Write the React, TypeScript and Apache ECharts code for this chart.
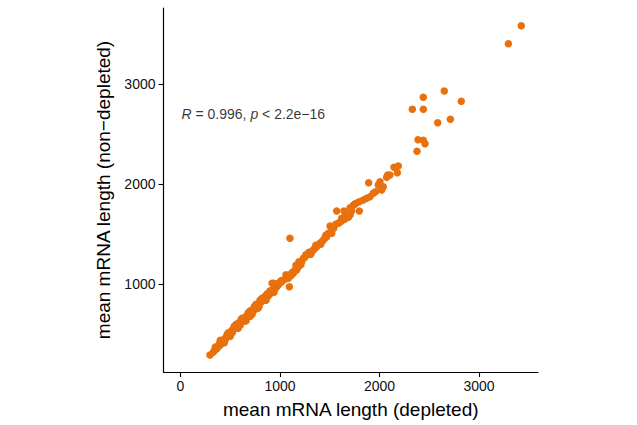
import React, { useEffect, useRef } from "react";
import * as echarts from "echarts";

// mean mRNA length, depleted (x) vs non-depleted (y)
const depleted = [
  296, 330, 345, 357, 362, 370, 380, 385, 392, 398, 405, 414, 420, 425, 430, 438, 445, 450, 458, 464,
  470, 478, 485, 490, 496, 503, 508, 514, 520, 527, 533, 540, 548, 552, 558, 565, 570, 578, 585, 590,
  598, 604, 610, 618, 624, 631, 638, 645, 652, 658, 665, 672, 680, 686, 692, 698, 705, 712, 718, 726,
  732, 740, 749, 755, 760, 766, 772, 780, 788, 794, 799, 805, 812, 820, 826, 832, 840, 848, 856, 866,
  872, 880, 888, 899, 905, 912, 920, 925, 933, 940, 948, 955, 967, 975, 983, 933, 990, 1000, 1017, 1030,
  1050, 1067, 1084, 1094, 1100, 1100, 1120, 1134, 1134, 1150, 1168, 1168, 1184, 1201, 1218, 1235, 1250, 1268, 1280, 1302,
  1320, 1335, 1350, 1369, 1385, 1402, 1420, 1436, 1450, 1469, 1486, 1503, 1520, 1540, 1570, 1586, 1600, 1620, 1643, 1650,
  1670, 1687, 1704, 1704, 1720, 1737, 1750, 1764, 1797, 1797, 1837, 1871, 1891, 1904, 1938, 1960, 1988, 2005, 2022, 2038,
  2072, 2082, 2105, 2146, 2179, 2189, 2330, 2377, 2387, 2440, 2457, 2440, 2440, 2585, 2651, 2712, 2822, 3295, 3425,
  560, 600, 680, 700, 745, 790, 850, 640, 470, 520, 430, 395, 800, 565, 920, 1010, 1190, 1290,
  400, 440, 480, 500, 540, 580, 620, 660, 700, 720, 760, 780, 820, 860, 900, 940, 1060, 1110, 1160, 1210,
  1260, 1310, 1360, 1410, 1460, 1520, 1560, 1620, 1660, 350, 610, 740, 870,
];
const nonDepleted = [
  293, 322, 345, 360, 352, 372, 376, 390, 388, 402, 400, 410, 425, 418, 443, 440, 452, 448, 470, 476,
  472, 492, 490, 510, 505, 520, 515, 536, 530, 548, 555, 552, 570, 580, 572, 593, 600, 598, 612, 605,
  616, 630, 625, 640, 650, 643, 660, 655, 672, 668, 670, 690, 686, 700, 710, 693, 722, 716, 735, 726,
  748, 742, 760, 770, 758, 793, 785, 800, 795, 812, 826, 818, 835, 830, 848, 850, 860, 855, 870, 876,
  888, 884, 900, 903, 918, 925, 920, 940, 943, 955, 950, 968, 976, 990, 1010, 1010, 1000, 1020, 1026, 1040,
  1050, 1060, 1060, 976, 1460, 1093, 1115, 1110, 1126, 1140, 1143, 1160, 1176, 1210, 1226, 1260, 1270, 1293, 1300, 1316,
  1330, 1343, 1360, 1376, 1395, 1410, 1425, 1443, 1460, 1476, 1510, 1583, 1543, 1560, 1733, 1610, 1620, 1633, 1733, 1650,
  1680, 1670, 1693, 1766, 1733, 1790, 1800, 1810, 1826, 1733, 1843, 1860, 2016, 1876, 1910, 1925, 1993, 2026, 1943, 1976,
  2070, 2093, 2093, 2170, 2116, 2183, 2750, 2330, 2446, 2440, 2406, 2750, 2870, 2616, 2933, 2650, 2830, 3406, 3586,
  600, 590, 715, 680, 780, 780, 880, 630, 500, 515, 420, 415, 843, 593, 1010, 1035, 1225, 1320,
  440, 415, 515, 480, 580, 560, 660, 635, 735, 700, 800, 760, 860, 840, 935, 920, 1095, 1085, 1190, 1195,
  1295, 1300, 1390, 1400, 1490, 1510, 1600, 1660, 1700, 372, 650, 770, 905,
];

const xTicks = [0, 1000, 2000, 3000];
const yTicks = [1000, 2000, 3000];
const xTitle = "mean mRNA length (depleted)";
const yTitle = "mean mRNA length (non\u2212depleted)";
const annotationPos = [0, 2700];

export default function App() {
  const ref = useRef<HTMLDivElement>(null);
  useEffect(() => {
    if (!ref.current) return;
    const chart = echarts.init(ref.current, null, { renderer: "svg" });
    const points = depleted.map((x, i) => [x, nonDepleted[i]]);
    const font = "Liberation Sans, Arial, Helvetica, sans-serif";
    chart.setOption({
      animation: false,
      textStyle: { fontFamily: font },
      grid: { left: 163.5, right: 99, top: 8, bottom: 53, containLabel: false },
      xAxis: {
        type: "value",
        min: -171,
        max: 3593,
        name: xTitle,
        nameLocation: "middle",
        nameGap: 28,
        nameTextStyle: { fontSize: 19, color: "#000", fontFamily: font },
        axisLine: { show: true, onZero: false, lineStyle: { color: "#000", width: 1.2 } },
        axisTick: { show: true, length: 5, customValues: xTicks, lineStyle: { color: "#000", width: 1.1 } },
        axisLabel: {
          customValues: xTicks,
          formatter: (v: number) => String(v),
          fontSize: 14,
          color: "#111",
          margin: 7,
          fontFamily: font,
        },
        splitLine: { show: false },
      },
      yAxis: {
        type: "value",
        min: 123,
        max: 3763,
        name: yTitle,
        nameLocation: "middle",
        nameGap: 45,
        nameTextStyle: { fontSize: 19, color: "#000", fontFamily: font },
        axisLine: { show: true, onZero: false, lineStyle: { color: "#000", width: 1.2 } },
        axisTick: { show: true, length: 5, customValues: yTicks, lineStyle: { color: "#000", width: 1.1 } },
        axisLabel: {
          customValues: yTicks,
          formatter: (v: number) => String(v),
          fontSize: 14,
          color: "#111",
          margin: 8,
          fontFamily: font,
        },
        splitLine: { show: false },
      },
      series: [
        {
          type: "scatter",
          data: points,
          symbol: "circle",
          symbolSize: 7.5,
          itemStyle: { color: "#E8710E", opacity: 1 },
          silent: true,
        },
        {
          type: "scatter",
          data: [annotationPos],
          symbolSize: 0,
          silent: true,
          label: {
            show: true,
            position: "right",
            distance: 1,
            formatter: "{i|R} = 0.996, {i|p} < 2.2e\u221216",
            fontSize: 14,
            color: "#000",
            fontFamily: font,
            rich: {
              i: { fontStyle: "italic", fontSize: 14, color: "#000", fontFamily: font },
            },
          },
        },
      ],
    });
    return () => chart.dispose();
  }, []);
  return (
    <div
      ref={ref}
      style={{ position: "fixed", left: 0, top: 0, width: 637, height: 425, background: "#fff" }}
    />
  );
}
